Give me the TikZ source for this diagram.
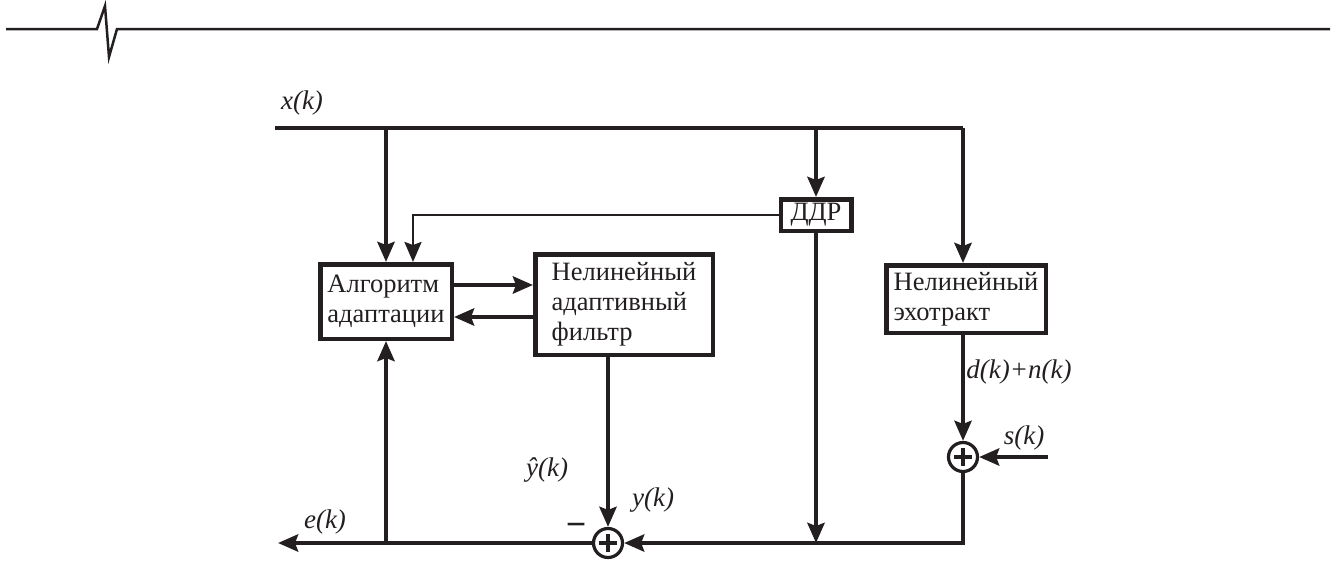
\documentclass[tikz,border=0pt]{standalone}
\usepackage{fontspec}
\setmainfont{Liberation Serif}
\usetikzlibrary{arrows.meta}
\definecolor{ink}{HTML}{231F20}
\begin{document}
\begin{tikzpicture}[x=1pt,y=-1pt,color=ink,
  wire/.style={line width=4.5pt},
  thinwire/.style={line width=2.5pt},
  arr/.style={-{Stealth[length=20pt,width=17pt,inset=3pt]}},
  blk/.style={draw,line width=4.5pt,align=left,font=\fontsize{26.5}{30}\selectfont,inner sep=0pt},
  sumc/.style={circle,draw,line width=3.2pt,minimum size=29pt,inner sep=0pt,
    path picture={\draw[line width=3.5pt] ([xshift=-9pt]path picture bounding box.center) -- ([xshift=9pt]path picture bounding box.center) ([yshift=-9pt]path picture bounding box.center) -- ([yshift=9pt]path picture bounding box.center);}},
  lbl/.style={font=\fontsize{27}{30}\selectfont\itshape,inner sep=0pt}
]
\useasboundingbox (0,0) rectangle (1337,562);
% top decorative line
\draw[thinwire] (6,29) -- (97,29) -- (105,6) -- (109,57) -- (117,29) -- (1330,29);

% blocks
\node[blk,minimum width=131.5pt,minimum height=74.5pt] (alg) at (386,301.5) {Алгоритм\\адаптации};
\node[blk,minimum width=177.5pt,minimum height=100.5pt] (naf) at (624,304.5) {Нелинейный\\адаптивный\\фильтр};
\node[blk,minimum width=70.5pt,minimum height=31.5pt] (ddr) at (816,215) {ДДР};
\node[blk,minimum width=159.5pt,minimum height=67.5pt] (echo) at (966,299) {Нелинейный\\эхотракт};
\node[sumc] (s1) at (608,543) {};
\node[sumc] (s2) at (963,457) {};

% coordinates
\coordinate (xin) at (275,128);
\coordinate (j1) at (386,128);
\coordinate (j2) at (816,128);
\coordinate (busR) at (963,128);
\coordinate (fbx) at (413,214);
\coordinate (up) at (0,285);
\coordinate (lo) at (0,317);
\coordinate (yx) at (608,0);
\coordinate (sin) at (1048,457);
\coordinate (eout) at (278,543);

% connectors
\draw[wire] (xin) -- (busR);
\draw[wire,arr] (busR) -- (busR |- echo.north);
\draw[wire,arr] (j1) -- (alg.north);
\draw[wire,arr] (j2) -- (ddr.north);
\draw[thinwire,arr] (ddr.west) -| (fbx |- alg.north);
\draw[wire,arr] (alg.east |- up) -- (naf.west |- up);
\draw[wire,arr] (naf.west |- lo) -- (alg.east |- lo);
\draw[wire,arr] (naf.south -| yx) -- (s1.north);
\draw[wire,arr] (ddr.south) -- (ddr.south |- s1.center);
\draw[wire,arr] (s2.south) |- (s1.east);
\draw[wire,arr] (echo.south -| s2) -- (s2.north);
\draw[wire,arr] (sin) -- (s2.east);
\draw[wire,arr] (s1.west) -- (eout);
\draw[wire,arr] (alg.south |- s1.center) -- (alg.south);

% labels
\node[lbl] (lx) at (302,103) {x(k)};
\node[lbl] (ld) at (1019,372) {d(k)+n(k)};
\node[lbl] (ls) at (1024,438) {s(k)};
\node[lbl] (lyh) at (547,470) {\^y(k)};
\node[lbl] (ly) at (653,500) {y(k)};
\node[lbl] (le) at (325,522) {e(k)};
\node[font=\fontsize{36}{36}\selectfont\bfseries,inner sep=0pt] (mn) at (576,530) {−};
\end{tikzpicture}
\end{document}
